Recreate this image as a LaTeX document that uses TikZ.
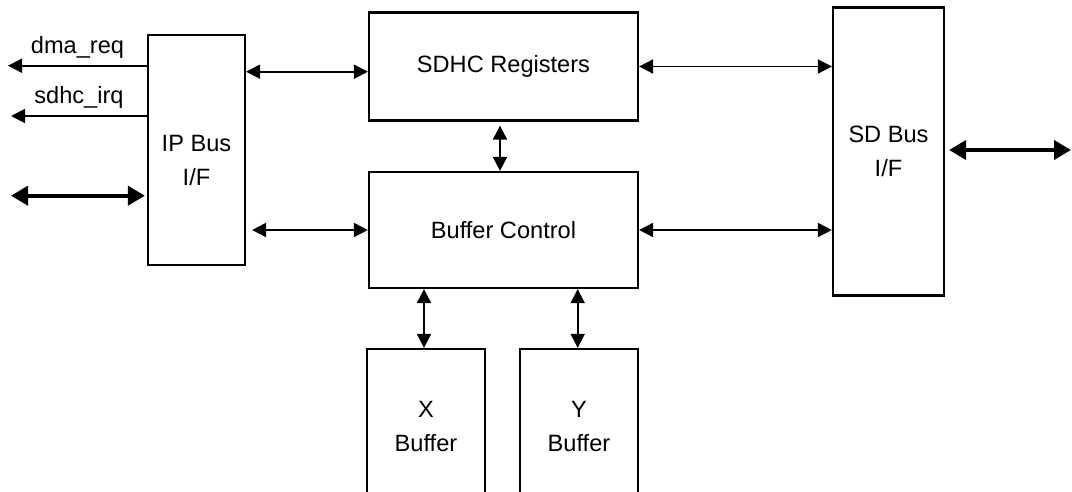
\documentclass[tikz,border=0pt]{standalone}
\usepackage{fontspec}
\setmainfont{Liberation Sans}
\usetikzlibrary{arrows.meta,positioning}

\tikzset{
  block/.style={draw,line width=1.1pt,align=center,inner sep=0pt,
    font=\fontsize{11.8}{17}\selectfont},
  link/.style={line width=0.9pt,
    {Triangle[length=7pt,width=7pt]}-{Triangle[length=7pt,width=7pt]}},
  buslink/.style={line width=2pt,
    {Triangle[length=8.5pt,width=9.5pt]}-{Triangle[length=8.5pt,width=9.5pt]}},
  outlink/.style={line width=0.9pt,-{Triangle[length=7pt,width=7pt]}},
  sig/.style={font=\fontsize{11.8}{14}\selectfont}
}

\begin{document}
\begin{tikzpicture}[x=0.5pt,y=-0.5pt]
  \useasboundingbox (0,0) rectangle (1072,492);
  \clip (0,0) rectangle (1072,492);

  % blocks
  \node[block,minimum width=48.5pt,minimum height=115pt,
    label={[align=center,font=\fontsize{11.8}{17}\selectfont,yshift=-5pt]center:IP Bus\\I/F}] (ipbus) at (196.5,150) {};
  \node[block,minimum width=134.5pt,minimum height=54pt] (sdhcreg) at (503.5,66.5) {SDHC Registers};
  \node[block,minimum width=134.5pt,minimum height=58pt] (bufctl) at (503.5,230) {Buffer Control};
  \node[block,minimum width=55.5pt,minimum height=144pt] (sdbus) at (888.5,151.5) {SD Bus\\I/F};
  \node[block,minimum width=59pt,minimum height=77pt] (xbuf) at (426,426) {X\\Buffer};
  \node[block,minimum width=59pt,minimum height=77pt] (ybuf) at (579,426) {Y\\Buffer};

  % free ends
  \coordinate (dmaend) at (8,65.7);
  \coordinate (irqend) at (11,116);
  \coordinate (hostend) at (11,195.7);
  \coordinate (cardend) at (1071,150);

  % host side
  \draw[outlink] (ipbus.west |- dmaend) -- (dmaend) node[sig,midway,above] {dma\_req};
  \draw[outlink] (ipbus.west |- irqend) -- (irqend) node[sig,midway,above] {sdhc\_irq};
  \draw[buslink] (hostend) -- ([xshift=-1pt]ipbus.west |- hostend);

  % internal
  \draw[link] (ipbus.east |- 0,71.7) -- (sdhcreg.west |- 0,71.7);
  \draw[link] ([xshift=3pt]ipbus.east |- bufctl.west) -- (bufctl.west);
  \draw[link] ([yshift=-2pt]sdhcreg.south -| 500,0) -- (bufctl.north -| 500,0);
  \draw[link] (sdhcreg.east) -- (sdbus.west |- sdhcreg.east);
  \draw[link] (bufctl.east) -- (sdbus.west |- bufctl.east);
  \draw[link] (bufctl.south -| 424,0) -- (xbuf.north -| 424,0);
  \draw[link] (bufctl.south -| 577.7,0) -- (ybuf.north -| 577.7,0);

  % card side
  \draw[buslink] ([xshift=2pt]sdbus.east |- cardend) -- (cardend);
\end{tikzpicture}
\end{document}
